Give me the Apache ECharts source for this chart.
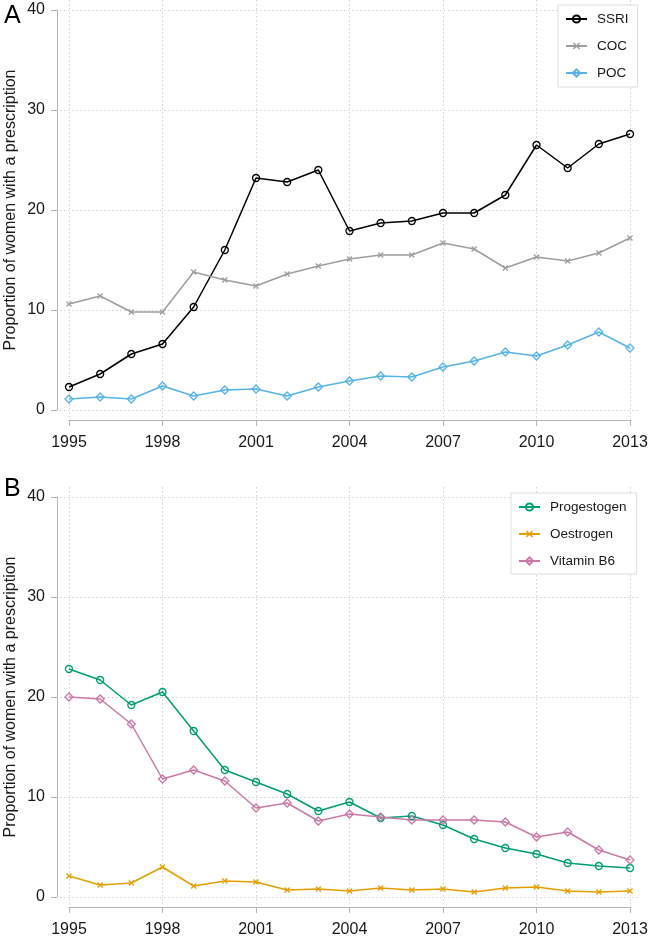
<!DOCTYPE html>
<html>
<head>
<meta charset="utf-8">
<script src="https://cdn.jsdelivr.net/npm/echarts@6/dist/echarts.min.js"></script>
<style>
html,body{margin:0;padding:0;background:#fff;}
#chart{width:650px;height:937px;}
</style>
</head>
<body>
<div id="chart"></div>
<script>
// ---- data ----
var years = [1995,1996,1997,1998,1999,2000,2001,2002,2003,2004,2005,2006,2007,2008,2009,2010,2011,2012,2013];
var xTicks = [1995,1998,2001,2004,2007,2010,2013];
var yTicks = [0,10,20,30,40];
var ssri = [2.3,3.6,5.6,6.6,10.3,16.0,23.2,22.8,24.0,17.9,18.7,18.9,19.7,19.7,21.5,26.5,24.2,26.6,27.6];
var coc  = [10.6,11.4,9.8,9.8,13.8,13.0,12.4,13.6,14.4,15.1,15.5,15.5,16.7,16.1,14.2,15.3,14.9,15.7,17.2];
var poc  = [1.1,1.3,1.1,2.4,1.4,2.0,2.1,1.4,2.3,2.9,3.4,3.3,4.3,4.9,5.8,5.4,6.5,7.8,6.2];
var progestogen = [22.8,21.7,19.2,20.5,16.6,12.7,11.5,10.3,8.6,9.5,7.9,8.1,7.2,5.8,4.9,4.3,3.4,3.1,2.9];
var oestrogen   = [2.1,1.2,1.4,3.0,1.1,1.6,1.5,0.7,0.8,0.6,0.9,0.7,0.8,0.5,0.9,1.0,0.6,0.5,0.6];
var vitaminB6   = [20.0,19.8,17.3,11.8,12.7,11.6,8.9,9.4,7.6,8.3,8.0,7.7,7.7,7.7,7.5,6.0,6.5,4.7,3.7];
var yTitle = 'Proportion of women with a prescription';

// ---- styles ----
var FONT = '"Liberation Sans", Arial, Helvetica, sans-serif';
var AXIS_COLOR = '#b5b5b5';
var GRID_COLOR = '#cfcfcf';
var TEXT_COLOR = '#1a1a1a';
var X_SYMBOL = 'path://M1.5,0 L5,3.5 L8.5,0 L10,1.5 L6.5,5 L10,8.5 L8.5,10 L5,6.5 L1.5,10 L0,8.5 L3.5,5 L0,1.5 Z';

function pairs(vals){ return years.map(function(y,i){ return [y, vals[i]]; }); }

var pxPerYear = 561/18;
var bgXMin = 1995 - 9/pxPerYear;
var bgXMax = 2013 + 8/pxPerYear;

function axisX(gi){
  return {
    gridIndex: gi, type: 'value', min: 1995, max: 2013, interval: 3,
    offset: 10,
    axisLine: {show: true, onZero: false, lineStyle: {color: AXIS_COLOR, width: 1}},
    axisTick: {show: true, inside: false, length: 6, lineStyle: {color: AXIS_COLOR, width: 1}},
    axisLabel: {show: true, fontSize: 16, fontFamily: FONT, color: TEXT_COLOR, margin: 15, hideOverlap: false,
      formatter: function(v){ return String(v); }},
    splitLine: {show: false}
  };
}
function axisY(gi){
  return {
    gridIndex: gi, type: 'value', min: 0, max: 40, interval: 10,
    offset: 12,
    name: yTitle, nameLocation: 'middle', nameRotate: 90, nameGap: 38, nameMoveOverlap: false,
    nameTextStyle: {fontSize: 16, fontFamily: FONT, color: TEXT_COLOR},
    axisLine: {show: true, onZero: false, lineStyle: {color: AXIS_COLOR, width: 1}},
    axisTick: {show: true, inside: false, length: 6, lineStyle: {color: AXIS_COLOR, width: 1}},
    axisLabel: {show: true, fontSize: 16, fontFamily: FONT, color: TEXT_COLOR, margin: 12},
    splitLine: {show: false}
  };
}
function bgX(gi){
  return {
    gridIndex: gi, type: 'value', min: bgXMin, max: bgXMax,
    axisLine: {show: false}, axisLabel: {show: false, customValues: xTicks},
    axisTick: {show: false, customValues: xTicks},
    splitLine: {show: true, lineStyle: {color: GRID_COLOR, type: [1.5, 2.5], width: 1}}
  };
}
function bgY(gi){
  return {
    gridIndex: gi, type: 'value', min: -1, max: 41,
    axisLine: {show: false}, axisLabel: {show: false, customValues: yTicks},
    axisTick: {show: false, customValues: yTicks},
    splitLine: {show: true, lineStyle: {color: GRID_COLOR, type: [1.5, 2.5], width: 1}}
  };
}
function line(name, vals, color, symbol, size, axisIdx){
  var filled = symbol === X_SYMBOL;
  return {
    name: name, type: 'line', xAxisIndex: axisIdx, yAxisIndex: axisIdx,
    data: pairs(vals), clip: false,
    symbol: symbol, symbolSize: size, showSymbol: true, showAllSymbol: true,
    lineStyle: {color: color, width: 1.5},
    itemStyle: {color: filled ? color : 'rgba(255,255,255,0)', borderColor: color, borderWidth: filled ? 0 : 1.3},
    emphasis: {disabled: true},
    z: 3
  };
}
function legend(names, left, top, padding){
  return {
    data: names, orient: 'vertical', left: left, top: top,
    itemWidth: 21, itemHeight: 9, itemGap: 13, padding: padding,
    borderColor: '#dddddd', borderWidth: 1, backgroundColor: '#fff',
    textStyle: {fontSize: 13.5, fontFamily: FONT, color: TEXT_COLOR, padding: [0,0,0,5]},
    selectedMode: false
  };
}

var option = {
  animation: false,
  backgroundColor: '#ffffff',
  title: [
    {text: 'A', left: 4, top: 4, padding: 0, textStyle: {fontSize: 25, fontWeight: 'normal', fontFamily: FONT, color: '#000'}},
    {text: 'B', left: 4, top: 477, padding: 0, textStyle: {fontSize: 25, fontWeight: 'normal', fontFamily: FONT, color: '#000'}}
  ],
  legend: [
    legend(['SSRI','COC','POC'], 558, 5, [7, 9, 7, 7]),
    legend(['Progestogen','Oestrogen','Vitamin B6'], 511, 493, [7, 10, 6, 7])
  ],
  grid: [
    {left: 69, top: 10, width: 561, height: 400, outerBoundsMode: 'none', containLabel: false},
    {left: 60, top: 0, width: 578, height: 420, outerBoundsMode: 'none', containLabel: false},
    {left: 69, top: 497, width: 561, height: 400, outerBoundsMode: 'none', containLabel: false},
    {left: 60, top: 487, width: 578, height: 420, outerBoundsMode: 'none', containLabel: false}
  ],
  xAxis: [axisX(0), bgX(1), axisX(2), bgX(3)],
  yAxis: [axisY(0), bgY(1), axisY(2), bgY(3)],
  series: [
    line('SSRI', ssri, '#000000', 'circle', 7, 0),
    line('COC', coc, '#9e9e9e', X_SYMBOL, 6, 0),
    line('POC', poc, '#56B4E9', 'diamond', 8, 0),
    line('Progestogen', progestogen, '#009E73', 'circle', 7, 2),
    line('Oestrogen', oestrogen, '#E69F00', X_SYMBOL, 6, 2),
    line('Vitamin B6', vitaminB6, '#CC79A7', 'diamond', 8, 2)
  ]
};
var chart = echarts.init(document.getElementById('chart'), null, {renderer: 'canvas'});
chart.setOption(option);
</script>
</body>
</html>
